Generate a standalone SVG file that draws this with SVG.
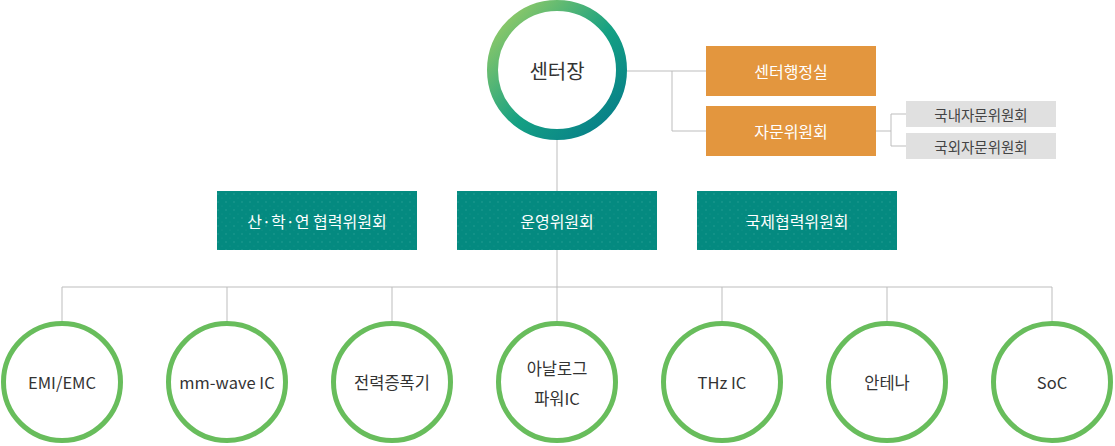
<svg xmlns="http://www.w3.org/2000/svg" width="1115" height="446" viewBox="0 0 1115 446">
  <style>
    .ln{stroke:#bdbdbd;stroke-width:1;fill:none}
    .t{font-family:"Noto Sans CJK KR","Noto Sans",sans-serif;text-anchor:middle;dominant-baseline:central}
    .w{fill:#ffffff;font-size:16px}
    .d{fill:#333333;font-size:16.5px}
    .g{fill:#444444;font-size:14.5px}
    .or{fill:#e3963e}
    .gr{fill:#e0e0e0}
    .ring{fill:#ffffff;stroke:#68bd5c;stroke-width:5}
  </style>
  <defs>
    <linearGradient id="topg" x1="0" y1="0" x2="1" y2="1">
      <stop offset="0" stop-color="#a6d163"/>
      <stop offset="0.55" stop-color="#14a083"/>
      <stop offset="1" stop-color="#05788a"/>
    </linearGradient>
    <pattern id="dots" width="8" height="8" patternUnits="userSpaceOnUse">
      <rect width="8" height="8" fill="#048a80"/>
      <circle cx="2" cy="2" r="0.7" fill="#2aa095"/>
      <circle cx="6" cy="6" r="0.5" fill="#1b978c"/>
    </pattern>
  </defs>
  <g id="connectors">
    <path class="ln" d="M627 71H672M672 71V131M672 71H706M672 131H706"/>
    <path class="ln" d="M876 131H891M891 114V146M891 114H906M891 146H906"/>
    <path class="ln" d="M557 140V287"/>
    <path class="ln" d="M62 287H1052M62 287V321M227 287V321M392 287V321M557 287V321M722 287V321M887 287V321M1052 287V321"/>
  </g>
  <g id="center">
    <circle cx="557" cy="70" r="64.5" fill="#ffffff" stroke="url(#topg)" stroke-width="11"/>
    <text class="t" x="557" y="70" fill="#333333" font-size="20">센터장</text>
  </g>
  <g id="admin">
    <rect class="or" x="706" y="46" width="170" height="50"/>
    <text class="t w" x="791" y="71">센터행정실</text>
  </g>
  <g id="advisory">
    <rect class="or" x="706" y="106" width="170" height="50"/>
    <text class="t w" x="791" y="131">자문위원회</text>
  </g>
  <g id="domestic">
    <rect class="gr" x="906" y="101" width="150" height="26"/>
    <text class="t g" x="981" y="114">국내자문위원회</text>
  </g>
  <g id="foreign">
    <rect class="gr" x="906" y="133" width="150" height="26"/>
    <text class="t g" x="981" y="146">국외자문위원회</text>
  </g>
  <g id="industry">
    <rect x="217" y="191" width="200" height="59" fill="url(#dots)"/>
    <text class="t w" x="317" y="220.5">산·학·연 협력위원회</text>
  </g>
  <g id="operation">
    <rect x="457" y="191" width="200" height="59" fill="url(#dots)"/>
    <text class="t w" x="557" y="220.5">운영위원회</text>
  </g>
  <g id="international">
    <rect x="697" y="191" width="200" height="59" fill="url(#dots)"/>
    <text class="t w" x="797" y="220.5">국제협력위원회</text>
  </g>
  <g id="emi">
    <circle class="ring" cx="62" cy="382" r="58.5"/>
    <text class="t d" x="62" y="382">EMI/EMC</text>
  </g>
  <g id="mmwave">
    <circle class="ring" cx="227" cy="382" r="58.5"/>
    <text class="t d" x="227" y="382">mm-wave IC</text>
  </g>
  <g id="pa">
    <circle class="ring" cx="392" cy="382" r="58.5"/>
    <text class="t d" x="392" y="382">전력증폭기</text>
  </g>
  <g id="analog">
    <circle class="ring" cx="557" cy="382" r="58.5"/>
    <text class="t d" x="557" y="368">아날로그</text>
    <text class="t d" x="557" y="398">파워IC</text>
  </g>
  <g id="thz">
    <circle class="ring" cx="722" cy="382" r="58.5"/>
    <text class="t d" x="722" y="382">THz IC</text>
  </g>
  <g id="antenna">
    <circle class="ring" cx="887" cy="382" r="58.5"/>
    <text class="t d" x="887" y="382">안테나</text>
  </g>
  <g id="soc">
    <circle class="ring" cx="1052" cy="382" r="58.5"/>
    <text class="t d" x="1052" y="382">SoC</text>
  </g>
</svg>
